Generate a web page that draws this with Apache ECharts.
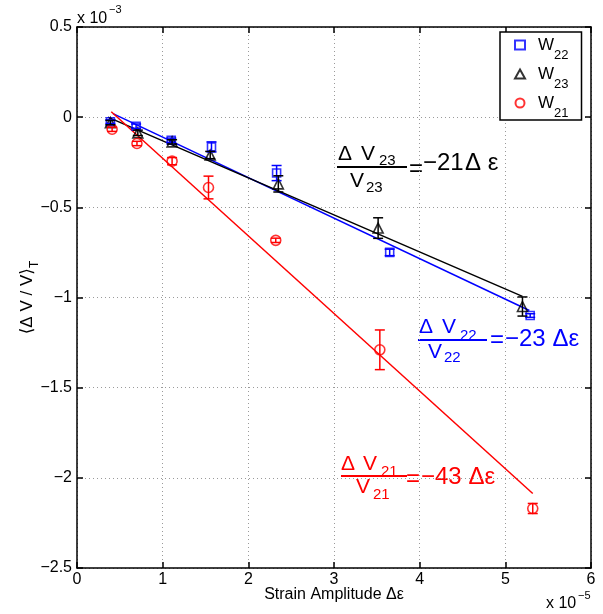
<!DOCTYPE html>
<html><head><meta charset="utf-8">
<script src="https://cdn.jsdelivr.net/npm/echarts@6/dist/echarts.min.js"></script>
<style>html,body{margin:0;padding:0;background:#fff}#c{width:603px;height:614px}</style>
</head><body><div id="c"></div>
<script>
// ---- data (x in units of 1e-5, y in units of 1e-3) ----
const xTickLabels = ['0','1','2','3','4','5','6'];
const yTickLabels = ['\u22122.5','\u22122','\u22121.5','\u22121','\u22120.5','0','0.5'];

const xW22 = [0.39, 0.69, 1.10, 1.57, 2.33, 3.65, 5.29];
const yW22 = [-0.025, -0.05, -0.128, -0.165, -0.31, -0.75, -1.10];
const eW22 = [0.010, 0.012, 0.012, 0.028, 0.042, 0.018, 0.010];

const xW23 = [0.39, 0.71, 1.11, 1.555, 2.35, 3.515, 5.20];
const yW23 = [-0.03, -0.087, -0.137, -0.21, -0.37, -0.615, -1.05];
const eW23 = [0.012, 0.015, 0.012, 0.020, 0.045, 0.057, 0.053];

const xW21 = [0.41, 0.70, 1.11, 1.535, 2.32, 3.535, 5.32];
const yW21 = [-0.067, -0.146, -0.244, -0.39, -0.683, -1.29, -2.17];
const eW21 = [0.012, 0.012, 0.020, 0.063, 0.012, 0.11, 0.028];

const fitX22 = [0.42, 5.28], fitY22 = [0.02, -1.072];
const fitX23 = [0.36, 5.20], fitY23 = [0.0, -0.994];
const fitX21 = [0.40, 5.32], fitY21 = [0.03, -2.087];

const seriesNames = ['W22', 'W23', 'W21'];
// ---------------------------------------------------------

const FF = '"Liberation Sans", Arial, Helvetica, "DejaVu Sans", sans-serif';
const BLUE = '#0000ff', BLACK = '#000000', RED = '#ff0000';

function pts(xs, ys) { return xs.map((x, i) => [x, ys[i]]); }

function scatter(name, xs, ys, symbol, size, color) {
  return {
    type: 'scatter', name, data: pts(xs, ys), symbol, symbolSize: size, z: 3,
    itemStyle: { color: 'rgba(0,0,0,0)', borderColor: color, borderWidth: 1.6 },
    emphasis: { disabled: true }
  };
}
function errBars(name, xs, ys, es, color) {
  return {
    type: 'custom', name, z: 4, silent: true,
    data: xs.map((x, i) => [x, ys[i], es[i]]),
    encode: { x: 0, y: 1 },
    renderItem: (params, api) => {
      const x = api.value(0), y = api.value(1), e = api.value(2);
      const t = api.coord([x, y + e]), b = api.coord([x, y - e]);
      const w = 5, st = { stroke: color, lineWidth: 1.5 };
      return { type: 'group', children: [
        { type: 'line', shape: { x1: t[0], y1: t[1], x2: b[0], y2: b[1] }, style: st },
        { type: 'line', shape: { x1: t[0] - w, y1: t[1], x2: t[0] + w, y2: t[1] }, style: st },
        { type: 'line', shape: { x1: b[0] - w, y1: b[1], x2: b[0] + w, y2: b[1] }, style: st }
      ]};
    }
  };
}
function fitLine(name, xs, ys, color) {
  return {
    type: 'line', name, data: pts(xs, ys), symbol: 'none', z: 2, silent: true,
    lineStyle: { color, width: 1.5 }
  };
}
function txt(x, y, s, size, color) {
  return { type: 'text', x, y, silent: true,
    style: { text: s, fontSize: size, fontFamily: FF, fill: color,
      align: 'left', verticalAlign: 'middle', textAlign: 'left', textVerticalAlign: 'middle' } };
}
function bar(x1, x2, y, color) {
  return { type: 'line', silent: true, shape: { x1, y1: y, x2, y2: y }, style: { stroke: color, lineWidth: 2 } };
}

const axisBase = {
  type: 'value',
  axisLine: { show: true, onZero: false, lineStyle: { color: '#000', width: 1.5 } },
  axisTick: { show: true, inside: true, length: 6, lineStyle: { color: '#000', width: 1.5 } },
};

const chart = echarts.init(document.getElementById('c'), null, { renderer: 'canvas' });
chart.setOption({
  animation: false,
  backgroundColor: '#fff',
  grid: { left: 77, right: 12, top: 27, bottom: 46, containLabel: false },
  xAxis: [
    Object.assign({}, axisBase, {
      min: 0, max: 6, interval: 1, position: 'bottom',
      axisLabel: { margin: 4, fontSize: 16, fontFamily: FF, color: '#000',
        formatter: (v, i) => xTickLabels[i] },
      splitLine: { show: true, lineStyle: { color: '#9a9a9a', type: [1, 3], width: 1 } },
      name: 'Strain Amplitude \u0394\u03b5', nameLocation: 'middle', nameGap: 19,
      nameMoveOverlap: false,
      nameTextStyle: { fontSize: 16, fontFamily: FF, color: '#000' }
    }),
    Object.assign({}, axisBase, {
      min: 0, max: 6, interval: 1, position: 'top',
      axisLabel: { show: false }, splitLine: { show: false }
    })
  ],
  yAxis: [
    Object.assign({}, axisBase, {
      min: -2.5, max: 0.5, interval: 0.5, position: 'left',
      axisLabel: { margin: 5, fontSize: 16, fontFamily: FF, color: '#000',
        formatter: (v, i) => yTickLabels[i] },
      splitLine: { show: true, lineStyle: { color: '#9a9a9a', type: [1, 3], width: 1 } },
      name: '{a|\u27e8\u0394 V / V\u27e9}{t|T}', nameLocation: 'middle', nameGap: 42, nameRotate: 90,
      nameMoveOverlap: false,
      nameTextStyle: { color: '#000', rich: {
        a: { fontSize: 17, fontFamily: FF, lineHeight: 16, verticalAlign: 'top', color: '#000' },
        t: { fontSize: 12, fontFamily: FF, lineHeight: 12, padding: [10, 0, 0, 0], verticalAlign: 'top', color: '#000' }
      } }
    }),
    Object.assign({}, axisBase, {
      min: -2.5, max: 0.5, interval: 0.5, position: 'right',
      axisLabel: { show: false }, splitLine: { show: false }
    })
  ],
  legend: {
    data: seriesNames, orient: 'vertical', left: 500, top: 32,
    itemWidth: 10, itemHeight: 9, itemGap: 4, padding: [5, 13, 0, 14],
    borderColor: '#000', borderWidth: 1.5, backgroundColor: '#fff', borderRadius: 0,
    selectedMode: false,
    formatter: n => '{w|W}{s|' + n.slice(1) + '}',
    textStyle: { color: '#000', rich: {
      w: { fontSize: 17, fontFamily: FF, lineHeight: 16, verticalAlign: 'top', color: '#000', padding: [0, 0, 0, 8] },
      s: { fontSize: 13, fontFamily: FF, lineHeight: 12, padding: [12, 0, 0, 0], verticalAlign: 'top', color: '#000' }
    } }
  },
  series: [
    fitLine('fit22', fitX22, fitY22, BLUE),
    fitLine('fit23', fitX23, fitY23, BLACK),
    fitLine('fit21', fitX21, fitY21, RED),
    scatter('W22', xW22, yW22, 'rect', 8, BLUE),
    scatter('W23', xW23, yW23, 'triangle', 10, BLACK),
    scatter('W21', xW21, yW21, 'circle', 10, RED),
    errBars('e22', xW22, yW22, eW22, BLUE),
    errBars('e23', xW23, yW23, eW23, BLACK),
    errBars('e21', xW21, yW21, eW21, RED)
  ],
  graphic: [
    // exponent labels
    txt(77, 19, 'x 10', 16, '#000'), txt(109, 10, '\u22123', 11, '#000'),
    txt(546, 604, 'x 10', 16, '#000'), txt(578, 596, '\u22125', 11, '#000'),
    // black annotation
    txt(338, 154, '\u0394', 21, BLACK), txt(361, 154, 'V', 21, BLACK), txt(379, 160.5, '23', 15, BLACK),
    bar(337, 407, 167, BLACK),
    txt(350, 181, 'V', 21, BLACK), txt(366, 188, '23', 15, BLACK),
    txt(409, 169, '=', 24, BLACK), txt(423, 163, '\u221221', 24, BLACK), txt(465, 163, '\u0394 \u03b5', 24, BLACK),
    // blue annotation
    txt(419, 327.5, '\u0394', 21, BLUE), txt(442, 327.5, 'V', 21, BLUE), txt(460, 336, '22', 15, BLUE),
    bar(418, 487, 340, BLUE),
    txt(428, 352.5, 'V', 21, BLUE), txt(444, 358, '22', 15, BLUE),
    txt(490, 340, '=', 24, BLUE), txt(505, 339, '\u221223 \u0394\u03b5', 24, BLUE),
    // red annotation
    txt(341, 464, '\u0394', 21, RED), txt(363, 464, 'V', 21, RED), txt(381, 472, '21', 15, RED),
    bar(341, 407, 476, RED),
    txt(356, 487.5, 'V', 21, RED), txt(373, 495, '21', 15, RED),
    txt(406, 479, '=', 24, RED), txt(421, 477.5, '\u221243 \u0394\u03b5', 24, RED)
  ]
});
</script>
</body></html>
